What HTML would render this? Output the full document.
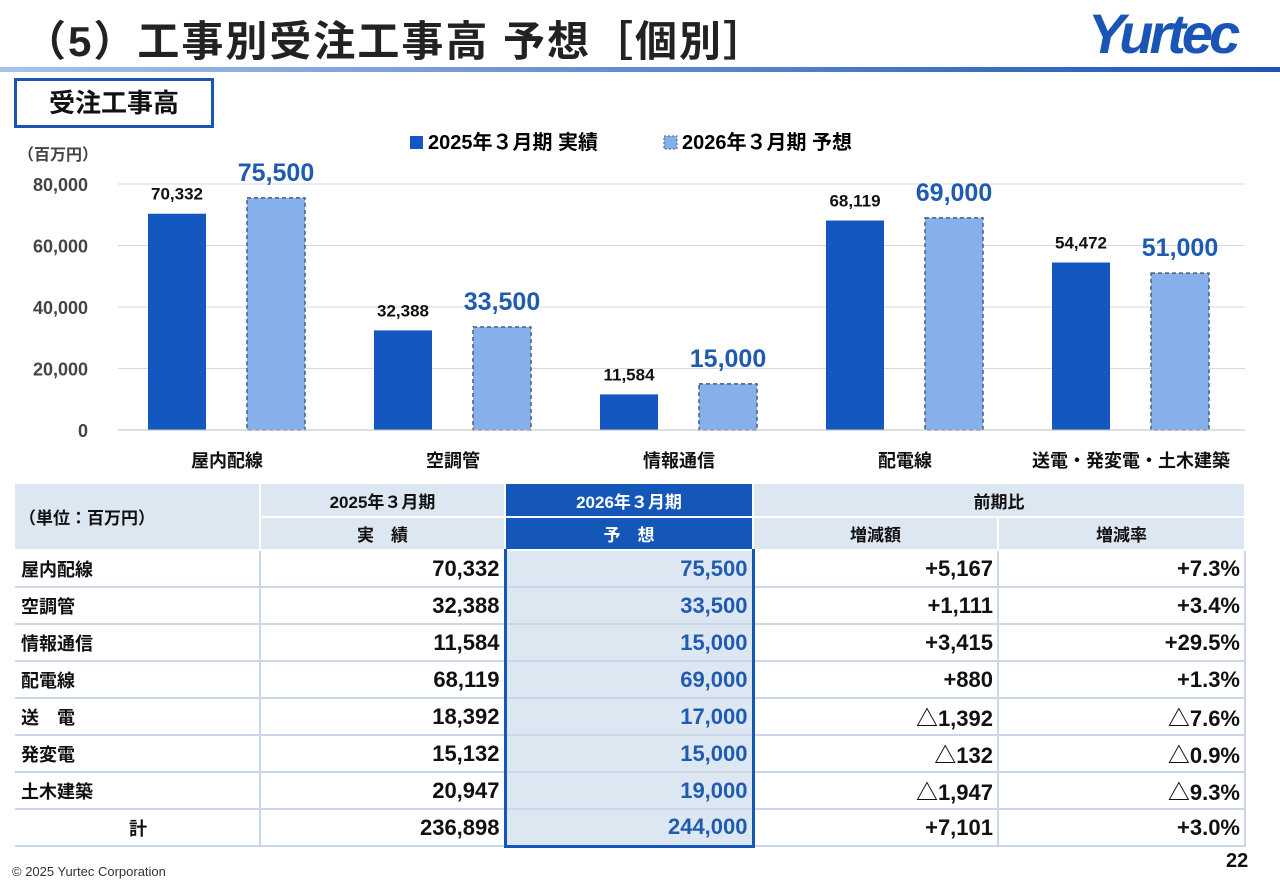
<!DOCTYPE html>
<html><head><meta charset="utf-8">
<style>
body{margin:0;width:1280px;height:886px;background:#fff;font-family:"Liberation Sans","Noto Sans CJK JP",sans-serif;position:relative;overflow:hidden;color:#111}
.abs{position:absolute}
table{border-collapse:collapse;position:absolute;left:15px;top:484px;width:1230px;font-weight:bold;font-size:22px;table-layout:fixed}
td{height:37px;border-bottom:2px solid #c9d7e8;padding:0 4px;border-right:2px solid #c9d7e8;box-sizing:border-box;overflow:hidden;white-space:nowrap}
td.n{text-align:right}
td.f{background:#dde7f2;color:#1f5bb0;border-left:3px solid #1557b8;border-right:3px solid #1557b8}
.h td{background:#dde7f2;text-align:center;font-size:17px;height:33px;border-bottom:2px solid #fff;border-right:2px solid #fff}
.h td.b{background:#1557b8;color:#fff}
td.l{font-size:18px;padding-left:6px}
</style></head><body>
<div class="abs" style="left:24px;top:8px;font-size:42px;font-weight:bold;color:#222;letter-spacing:2px">（5）工事別受注工事高 予想［個別］</div>
<div class="abs" style="left:1088px;top:1px;font-size:56px;font-weight:bold;font-style:italic;color:#1a55b5;letter-spacing:-4px">Yurtec</div>
<div class="abs" style="left:0;top:67px;width:1280px;height:5px;background:linear-gradient(90deg,#a9c2e6,#1a55b5)"></div>
<div class="abs" style="left:14px;top:78px;width:194px;height:44px;border:3px solid #1a55b5;font-size:26px;font-weight:bold;text-align:center;line-height:44px">受注工事高</div>
<svg class="abs" style="left:0;top:0" width="1280" height="480" id="chart"></svg>
<table>
<colgroup><col style="width:245px"><col style="width:245px"><col style="width:248px"><col style="width:245px"><col style="width:247px"></colgroup>
<tr class="h"><td rowspan="2" style="text-align:left">（単位：百万円）</td><td>2025年３月期</td><td class="b">2026年３月期</td><td colspan="2">前期比</td></tr>
<tr class="h"><td>実　績</td><td class="b">予　想</td><td>増減額</td><td>増減率</td></tr>
<tr><td class="l">屋内配線</td><td class="n">70,332</td><td class="n f">75,500</td><td class="n">+5,167</td><td class="n">+7.3%</td></tr>
<tr><td class="l">空調管</td><td class="n">32,388</td><td class="n f">33,500</td><td class="n">+1,111</td><td class="n">+3.4%</td></tr>
<tr><td class="l">情報通信</td><td class="n">11,584</td><td class="n f">15,000</td><td class="n">+3,415</td><td class="n">+29.5%</td></tr>
<tr><td class="l">配電線</td><td class="n">68,119</td><td class="n f">69,000</td><td class="n">+880</td><td class="n">+1.3%</td></tr>
<tr><td class="l">送　電</td><td class="n">18,392</td><td class="n f">17,000</td><td class="n">△1,392</td><td class="n">△7.6%</td></tr>
<tr><td class="l">発変電</td><td class="n">15,132</td><td class="n f">15,000</td><td class="n">△132</td><td class="n">△0.9%</td></tr>
<tr><td class="l">土木建築</td><td class="n">20,947</td><td class="n f">19,000</td><td class="n">△1,947</td><td class="n">△9.3%</td></tr>
<tr style="border-top:2px solid #1f5bb0"><td class="l" style="text-align:center">計</td><td class="n">236,898</td><td class="n f" style="border-bottom:3px solid #1557b8">244,000</td><td class="n">+7,101</td><td class="n">+3.0%</td></tr>
</table>
<div class="abs" style="left:12px;top:864px;font-size:13px;color:#333">© 2025 Yurtec Corporation</div>
<div class="abs" style="left:1226px;top:850px;font-size:20px;font-weight:bold">22</div>
<script>
const categories=["屋内配線","空調管","情報通信","配電線","送電・発変電・土木建築"];
const actual2025=[70332,32388,11584,68119,54472];
const forecast2026=[75500,33500,15000,69000,51000];
const yTicks=[0,20000,40000,60000,80000];
const svg=document.getElementById('chart');
const NS='http://www.w3.org/2000/svg';
const y=v=>430-v*246/80000;
const cx=i=>227+i*226;
function el(t,a,txt){const e=document.createElementNS(NS,t);for(const k in a)e.setAttribute(k,a[k]);if(txt!==undefined)e.textContent=txt;svg.appendChild(e);return e;}
const fmt=v=>v.toLocaleString('en-US');
yTicks.forEach(t=>{
 const g=el('line',{x1:118,x2:1245,y1:y(t),y2:y(t),stroke:'#d9d9d9','stroke-width':1});
 
 
 const l=el('text',{x:88,y:y(t)+7,'text-anchor':'end','font-size':18,'font-weight':'bold',fill:'#444'},fmt(t));
 
 
});
const u=el('text',{x:18,y:160,'font-size':16,'font-weight':'bold',fill:'#444'},'（百万円）');


categories.forEach((c,i)=>{
 const a=actual2025[i],f=forecast2026[i];
 const b1=el('rect',{x:cx(i)-79,y:y(a),width:58,height:430-y(a),fill:'#1557c0'});
 
 
 const b2=el('rect',{x:cx(i)+20,y:y(f),width:58,height:430-y(f),fill:'#86b0ec',stroke:'#4a5c80','stroke-width':1.5,'stroke-dasharray':'4,3'});
 
 
 const t1=el('text',{x:cx(i)-50,y:y(a)-14,'text-anchor':'middle','font-size':17,'font-weight':'bold',fill:'#111'},fmt(a));
 
 
 const t2=el('text',{x:cx(i)+49,y:y(f)-17,'text-anchor':'middle','font-size':25,'font-weight':'bold',fill:'#1f5bb0'},fmt(f));
 
 
 const cl=el('text',{x:cx(i),y:467,'text-anchor':'middle','font-size':18,'font-weight':'bold',fill:'#111'},c);
 
 
});
const ax=el('line',{x1:118,x2:1245,y1:430,y2:430,stroke:'#bfbfbf'});


const k1=el('rect',{x:410,y:136,width:13,height:13,fill:'#1557c0'});


const l1=el('text',{x:428,y:149,'font-size':20,'font-weight':'bold'},'2025年３月期 実績');


const k2=el('rect',{x:664,y:136,width:13,height:13,fill:'#86b0ec',stroke:'#4a5c80','stroke-dasharray':'2,2'});


const l2=el('text',{x:682,y:149,'font-size':20,'font-weight':'bold'},'2026年３月期 予想');


</script>
</body></html>
